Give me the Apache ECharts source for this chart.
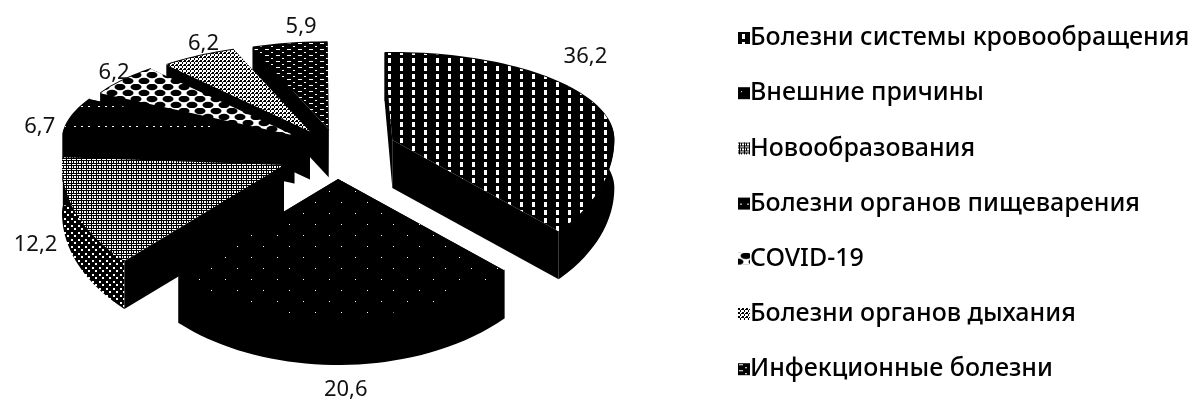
<!DOCTYPE html>
<html>
<head>
<meta charset="utf-8">
<style>
html, body { margin: 0; padding: 0; background: #fff; }
#main { width: 1193px; height: 403px; }
</style>
<script src="https://cdn.jsdelivr.net/npm/echarts@6/dist/echarts.min.js"></script>
</head>
<body>
<div id="main"></div>
<script>
var categories = ['Болезни системы кровообращения', 'Внешние причины', 'Новообразования',
	'Болезни органов пищеварения', 'COVID-19', 'Болезни органов дыхания', 'Инфекционные болезни'];
var values = [36.2, 20.6, 12.2, 6.7, 6.2, 6.2, 5.9];

// pseudo 3d pie, back half of the ellipse is flatter than the front half
var pie = {
	cx: 339, cy: 147, rx: 222, ryBack: 87, ryFront: 138, depth: 48,
	explodeX: 58, explodeBack: 18, explodeFront: 32, firstAngle: -2
};
var labelShift = [[-11, -49], [11, 73], [-38, 36], [-32, 11], [-9, -7], [5, -12], [12, -17]];
var drawOrder = [6, 5, 4, 3, 0, 1, 2];

function tile(w, h, draw) {
	var c = document.createElement('canvas');
	c.width = w;
	c.height = h;
	var g = c.getContext('2d');
	draw(g);
	return { image: c, repeat: 'repeat' };
}
function fillRects(g, color, list) {
	g.fillStyle = color;
	list.forEach(function(r) {
		g.fillRect(r[0], r[1], r[2], r[3]);
	});
}
var topFill = [
	tile(12, 8, function(g) {
		fillRects(g, '#000', [[0, 0, 12, 8]]);
		fillRects(g, '#fff', [[4, 2, 3, 5]]);
	}),
	tile(26, 22, function(g) {
		fillRects(g, '#000', [[0, 0, 26, 22]]);
		fillRects(g, '#fff', [[3, 4, 1, 1], [17, 15, 1, 1]]);
	}),
	tile(5, 5, function(g) {
		fillRects(g, '#fff', [[0, 0, 5, 5]]);
		fillRects(g, '#000', [[0, 0, 5, 1], [0, 3, 5, 1], [1, 0, 1, 5], [3, 1, 1, 3]]);
	}),
	tile(24, 20, function(g) {
		fillRects(g, '#000', [[0, 0, 24, 20]]);
		fillRects(g, '#fff', [[2, 6, 2, 1], [9, 6, 2, 1], [16, 6, 2, 1]]);
	}),
	tile(16, 12, function(g) {
		fillRects(g, '#fff', [[0, 0, 16, 12]]);
		g.fillStyle = '#000';
		[[8, 3], [0, 9], [16, 9]].forEach(function(p) {
			g.beginPath();
			g.ellipse(p[0], p[1], 5.5, 3.2, 0, 0, Math.PI * 2);
			g.fill();
		});
	}),
	tile(4, 4, function(g) {
		fillRects(g, '#fff', [[0, 0, 4, 4]]);
		fillRects(g, '#000', [[0, 0, 2, 2], [2, 2, 1, 2], [3, 1, 1, 1]]);
	}),
	tile(11, 6, function(g) {
		fillRects(g, '#000', [[0, 0, 11, 6]]);
		fillRects(g, '#fff', [[1, 1, 4, 1], [7, 4, 2, 1]]);
	})
];
var wallFill = topFill.slice();
wallFill[0] = wallFill[1] = '#000';
wallFill[2] = tile(7, 7, function(g) {
	fillRects(g, '#000', [[0, 0, 7, 7]]);
	fillRects(g, '#fff', [[1, 1, 2, 2], [4, 4, 2, 2]]);
});
wallFill[3] = wallFill[4] = wallFill[5] = wallFill[6] = '#000';

var total = values.reduce(function(a, b) { return a + b; }, 0);
var edges = [pie.firstAngle];
values.forEach(function(v, i) {
	edges.push(edges[i] + v / total * 360);
});

// the near side looks wider in the original's perspective
function warp(deg) {
	var out = deg;
	if (deg > 120) {
		var s = Math.sin(Math.PI * (deg - 120) / 270);
		out += 13 * s * s;
	}
	if (deg > 60 && deg < 165) {
		var n = Math.sin(Math.PI * (deg - 60) / 105);
		out -= 10 * n * n;
	}
	return out;
}
function dirOf(deg) {
	var a = warp(deg) * Math.PI / 180;
	return [Math.sin(a), -Math.cos(a)];
}
function apexOf(i) {
	var d = dirOf((edges[i] + edges[i + 1]) / 2);
	return [
		pie.cx + pie.explodeX * d[0],
		pie.cy + (d[1] < 0 ? pie.explodeBack * d[1] : pie.explodeFront * Math.sqrt(d[1]))
	];
}
function rimPoint(apex, deg) {
	var d = dirOf(deg);
	return [apex[0] + pie.rx * d[0], apex[1] + (d[1] < 0 ? pie.ryBack : pie.ryFront) * d[1]];
}
function down(p) {
	return [p[0], p[1] + pie.depth];
}

function renderSlice(i, val) {
	var apex = apexOf(i);
	var rim = [];
	for (var a = edges[i]; a < edges[i + 1]; a += 2) {
		rim.push(rimPoint(apex, a));
	}
	rim.push(rimPoint(apex, edges[i + 1]));
	var first = rim[0], last = rim[rim.length - 1];
	// wall starts a pixel under the top face so no light seam shows along the rim
	var wallTop = rim.map(function(p) { return [p[0], p[1] - 1]; });
	var wall = wallTop.concat(rim.map(down).reverse());
	var faceA = [apex, first, down(first), down(apex)];
	var faceB = [apex, last, down(last), down(apex)];
	var mid = rimPoint(apex, (edges[i] + edges[i + 1]) / 2);
	return {
		type: 'group',
		children: [
			{ type: 'polygon', shape: { points: wall }, style: { fill: wallFill[i] } },
			{ type: 'polygon', shape: { points: faceA }, style: { fill: '#000' } },
			{ type: 'polygon', shape: { points: faceB }, style: { fill: '#000' } },
			{ type: 'polygon', shape: { points: [apex].concat(rim) }, style: { fill: topFill[i] } },
			{
				type: 'text',
				style: {
					x: mid[0] + labelShift[i][0],
					y: mid[1] + labelShift[i][1],
					text: String(val).replace('.', ','),
					font: '22px "Noto Sans"',
					fill: '#111',
					align: 'center',
					verticalAlign: 'middle'
				}
			}
		]
	};
}

var chart = echarts.init(document.getElementById('main'), null, { renderer: 'canvas' });
chart.setOption({
	animation: false,
	backgroundColor: '#fff',
	legend: {
		orient: 'vertical',
		left: 733,
		top: 18,
		itemGap: 25.2,
		itemWidth: 12,
		itemHeight: 12,
		icon: 'rect',
		selectedMode: false,
		textStyle: {
			fontFamily: 'Noto Sans',
			fontSize: 25,
			lineHeight: 30,
			fontWeight: 500,
			color: '#000',
			padding: [0, 0, 0, -5]
		},
		data: categories.map(function(name, i) {
			return { name: name, itemStyle: { color: topFill[i] } };
		})
	},
	series: categories.map(function(name, i) {
		return {
			name: name,
			type: 'custom',
			coordinateSystem: 'none',
			z: 2 + drawOrder.indexOf(i),
			silent: true,
			itemStyle: { color: topFill[i] },
			data: [[values[i]]],
			renderItem: function(params, api) {
				return renderSlice(i, api.value(0));
			}
		};
	})
});
</script>
</body>
</html>
